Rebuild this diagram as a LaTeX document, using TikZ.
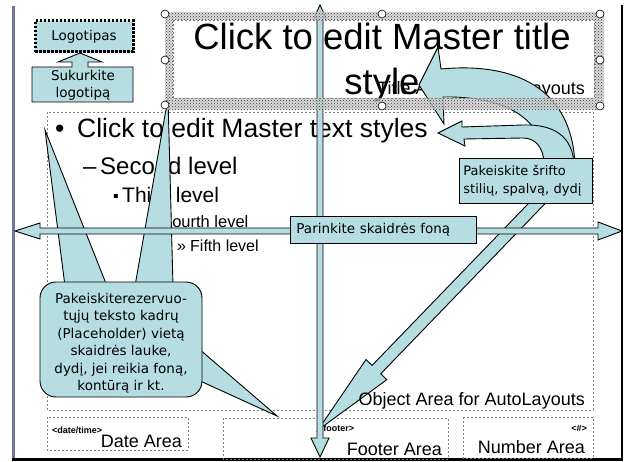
\documentclass[tikz,border=0pt]{standalone}
\usepackage{fontspec}
\setmainfont{Liberation Sans}
\newfontfamily\notefont{DejaVu Sans}
\usetikzlibrary{patterns}
\definecolor{notecyan}{RGB}{182,222,226}
\definecolor{slideedge}{RGB}{112,118,150}
\tikzset{
  notebox/.style={draw=black,fill=notecyan,line width=0.9pt},
  notetext/.style={font=\notefont\fontsize{13.5}{17.4}\selectfont,inner sep=0pt},
  holder/.style={draw=gray,line width=0.8pt,dash pattern=on 2pt off 2pt},
  handle/.style={circle,draw=black,fill=white,line width=0.6pt,inner sep=0pt,minimum size=8pt},
  areatext/.style={font=\fontsize{18}{20}\selectfont,inner sep=0pt},
  tagtext/.style={font=\bfseries\fontsize{9}{10}\selectfont,inner sep=0pt},
  leveltext/.style={anchor=base west,inner sep=0pt}
}

\begin{document}
\begin{tikzpicture}[x=1pt,y=-1pt]
  \useasboundingbox (0,0) rectangle (624,462);
  \fill[white] (0,0) rectangle (624,462);
  % slide edges
  \draw[slideedge,line width=3pt] (13.5,6) -- (13.5,460);
  \draw[line width=1.2pt] (622,5) -- (622,459);
  \draw[line width=2.2pt] (12,459.5) -- (623,459.5);

  % placeholders of the master
  \draw[holder] (47,112) rectangle (593,410);
  \draw[holder] (47,417) rectangle (188,450);
  \draw[holder] (223,418) rectangle (448,459);
  \draw[holder] (463,417) rectangle (593,458);

  \node[areatext,anchor=base east] (titlearea) at (585,95) {Title Area for AutoLayouts};
  \node[anchor=base,inner sep=0pt,font=\fontsize{36.5}{40}\selectfont] (titleone) at (382,50) {Click to edit Master title};
  \node[anchor=base,inner sep=0pt,font=\fontsize{36.5}{40}\selectfont] (titletwo) at (382,95) {style};

  \node[leveltext,font=\fontsize{26.5}{30}\selectfont] (bulone) at (55,138) {•};
  \node[leveltext,font=\fontsize{26.5}{30}\selectfont] (lvlone) at (77,138) {Click to edit Master text styles};
  \node[leveltext,font=\fontsize{24}{28}\selectfont] (bultwo) at (83,175) {–};
  \node[leveltext,font=\fontsize{24}{28}\selectfont] (lvltwo) at (100,175) {Second level};
  \node[leveltext,font=\fontsize{16}{20}\selectfont] (bulthree) at (113,202) {▪};
  \node[leveltext,font=\fontsize{21}{24}\selectfont] (lvlthree) at (122,203) {Third level};
  \node[leveltext,font=\fontsize{16.5}{20}\selectfont] (bulfour) at (148,228) {–};
  \node[leveltext,font=\fontsize{16.5}{20}\selectfont] (lvlfour) at (162,228) {Fourth level};
  \node[leveltext,font=\fontsize{16}{20}\selectfont] (bulfive) at (177,252) {»};
  \node[leveltext,font=\fontsize{16}{20}\selectfont] (lvlfive) at (190,252) {Fifth level};

  \node[tagtext,anchor=base west] (datetag) at (52,433) {<date/time>};
  \node[tagtext,anchor=base west] (foottag) at (318,431) {<footer>};
  \node[tagtext,anchor=base east] (numtag) at (587,431) {<\#>};
  \node[areatext,anchor=base east] (datearea) at (182,447) {Date Area};
  \node[areatext,anchor=base east] (footarea) at (442,455) {Footer Area};
  \node[areatext,anchor=base east] (numarea) at (585,453) {Number Area};

  % callout for the placeholders
  \draw[notebox] (45,130) -- (65,286) -- (107,286) -- cycle;
  \draw[notebox] (168,98) -- (135,286) -- (173,286) -- cycle;
  \draw[notebox] (277,416) -- (198,348) -- (198,380) -- cycle;
  \draw[notebox,rounded corners=16pt] (40,282) rectangle (202,397);
  \node[notetext,align=center,anchor=north] (placenote) at (121,293)
    {Pakeiskiterezervuo-\\tųjų teksto kadrų\\(Placeholder) vietą\\skaidrės lauke,\\dydį, jei reikia foną,\\kontūrą ir kt.};

  % arrows of the font note
  \draw[notebox] (540.7,190.8) -- (549.3,199.2) -- (380.7,373.8) -- (386.8,379.7)
    -- (318,430) -- (366,359.5) -- (372.1,365.4) -- cycle;
  \draw[notebox] (419,85) -- (438,47) -- (441,69) .. controls (515,62) and (572,88) .. (575,165)
    -- (545,165) .. controls (545,118) and (505,96) .. (443,97) -- (444,124) -- cycle;
  \draw[notebox] (438,133) -- (462,121) -- (462,127) -- (523,125) .. controls (556,124) and (573,138) .. (574,165)
    -- (544,165) .. controls (544,147) and (535,138) .. (523,138) -- (464,139) -- (465,146) -- cycle;
  \node[notebox,notetext,font=\notefont\fontsize{13}{18}\selectfont,align=left,anchor=north west,
    text width=125pt,inner xsep=4pt,minimum height=45pt] (fontnote) at (459,158)
    {Pakeiskite šrifto\\stilių, spalvą, dydį};
  \node[areatext,anchor=base east] (objarea) at (585,405) {Object Area for AutoLayouts};

  % background arrows
  \draw[notebox] (15,231) -- (40,223) -- (40,228) -- (598,228) -- (598,222) -- (622,231)
    -- (598,240) -- (598,234) -- (40,234) -- (40,239) -- cycle;
  \draw[notebox] (320,5) -- (326,18) -- (323,18) -- (323,438) -- (329,438) -- (320,457)
    -- (311,438) -- (317,438) -- (317,18) -- (314,18) -- cycle;
  \node[notebox,notetext,align=left,anchor=north west,text width=174pt,inner xsep=6pt,
    minimum height=27pt] (bgnote) at (290,216) {Parinkite skaidrės foną};

  % logo
  \node[notetext,fill=notecyan,draw=black,line width=3pt,dash pattern=on 2.5pt off 1.5pt,
    minimum width=98pt,minimum height=31pt] (logo) at (84,36.5) {Logotipas};
  \draw[notebox] (32,67) -- (72,67) -- (72,62) -- (58,62) -- (80,53) -- (102,62) -- (88,62)
    -- (88,67) -- (133,67) -- (133,102) -- (32,102) -- cycle;
  \node[notetext,align=center] (logonote) at (83,85) {Sukurkite\\logotipą};

  % selected title frame
  \fill[gray!35,even odd rule,opacity=0.8]
    (165,12) rectangle (604,110) (173,20) rectangle (594,98);
  \fill[pattern=crosshatch dots,pattern color=black!80,even odd rule]
    (165,12) rectangle (604,110) (173,20) rectangle (594,98);
  \draw[holder,line width=0.5pt] (173,20) rectangle (594,98);
  \foreach \hx/\hy [count=\i] in {165/14,165/60,165/105,382/14,382/106,600/14,600/60,600/106}
    \node[handle] (hnd\i) at (\hx,\hy) {};
\end{tikzpicture}
\end{document}
